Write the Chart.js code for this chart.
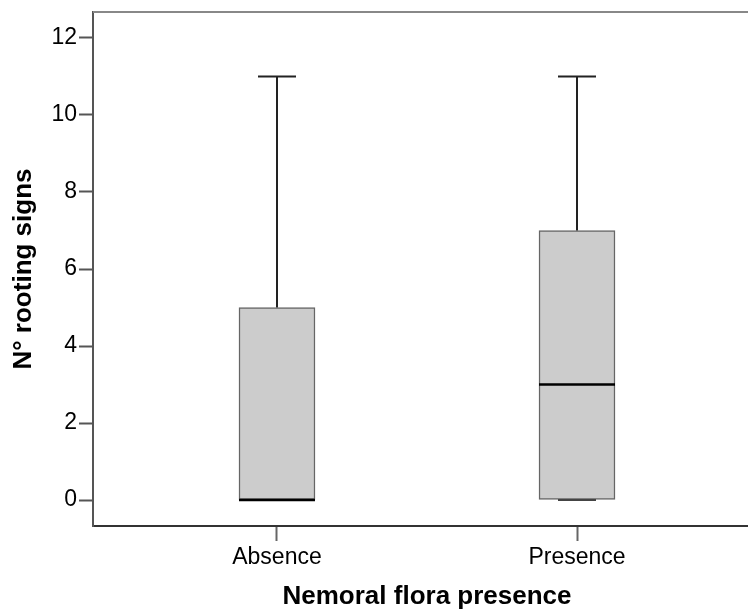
<!DOCTYPE html>
<html>
<head>
<meta charset="utf-8">
<script src="https://cdn.jsdelivr.net/npm/chart.js@4/dist/chart.umd.min.js"></script>
<style>
  html, body { margin: 0; padding: 0; background: #fff; overflow: hidden; }
  #wrap { width: 748px; height: 610px; overflow: hidden; }
</style>
</head>
<body>
<div id="wrap"><canvas id="box_chart" width="761" height="610"></canvas></div>
<script>
// data
var categories = ['Absence', 'Presence'];
var minVals = [0, 0];
var q1Vals = [0, 0];
var medianVals = [0, 3];
var q3Vals = [5, 7];
var maxVals = [11, 11];
var yTicks = [0, 2, 4, 6, 8, 10, 12];

var fontFamily = '"Liberation Sans", Arial, sans-serif';

// whiskers, caps, median line and top frame
var boxExtras = {
    id: 'boxExtras',
    afterDatasetsDraw: function (chart) {
        var ctx = chart.ctx;
        var x = chart.scales.x;
        var y = chart.scales.y;
        var area = chart.chartArea;
        var capHalf = 19;
        var boxHalf = 38;

        ctx.save();

        // top frame line
        ctx.strokeStyle = '#888';
        ctx.lineWidth = 2;
        ctx.beginPath();
        ctx.moveTo(area.left, area.top);
        ctx.lineTo(area.right, area.top);
        ctx.stroke();

        for (var i = 0; i < categories.length; i++) {
            var cx = Math.round(x.getPixelForValue(i));
            var yMax = y.getPixelForValue(maxVals[i]);
            var yMin = y.getPixelForValue(minVals[i]);
            var yQ1 = y.getPixelForValue(q1Vals[i]);
            var yQ3 = y.getPixelForValue(q3Vals[i]);
            var yMed = y.getPixelForValue(medianVals[i]);

            ctx.strokeStyle = '#222';
            ctx.lineWidth = 2;
            ctx.beginPath();
            ctx.moveTo(cx, yMax);
            ctx.lineTo(cx, yQ3);
            ctx.moveTo(cx - capHalf, yMax);
            ctx.lineTo(cx + capHalf, yMax);
            if (yMin > yQ1) {
                ctx.moveTo(cx, yQ1);
                ctx.lineTo(cx, yMin);
            }
            ctx.stroke();

            // lower cap
            ctx.strokeStyle = '#444';
            ctx.beginPath();
            ctx.moveTo(cx - capHalf, yMin);
            ctx.lineTo(cx + capHalf, yMin);
            ctx.stroke();

            // median
            ctx.strokeStyle = '#000';
            ctx.lineWidth = 2.5;
            ctx.beginPath();
            ctx.moveTo(cx - boxHalf, yMed);
            ctx.lineTo(cx + boxHalf, yMed);
            ctx.stroke();
        }
        ctx.restore();
    }
};

var box_chart = new Chart(document.getElementById('box_chart'), {
    type: 'bar',
    data: {
        datasets: [{
            data: categories.map(function (c, i) {
                return { x: i, y: [q1Vals[i], q3Vals[i]] };
            }),
            backgroundColor: '#cccccc',
            borderColor: '#666',
            borderWidth: 1.5,
            borderSkipped: false,
            barThickness: 76
        }]
    },
    options: {
        responsive: false,
        animation: false,
        layout: { padding: { top: 12, right: 0, left: 0, bottom: 0 } },
        plugins: {
            legend: { display: false },
            tooltip: { enabled: false }
        },
        scales: {
            x: {
                type: 'linear',
                offset: false,
                min: -0.6133,
                max: 1.6133,
                afterBuildTicks: function (scale) {
                    scale.ticks = categories.map(function (c, i) { return { value: i }; });
                },
                afterFit: function (scale) { scale.height = 84; },
                grid: {
                    offset: false,
                    drawOnChartArea: false,
                    drawTicks: true,
                    tickLength: 15,
                    tickWidth: 2,
                    tickColor: '#666'
                },
                border: { display: true, color: '#333', width: 2 },
                ticks: {
                    padding: 3,
                    color: '#000',
                    font: { family: fontFamily, size: 23 },
                    callback: function (v) { return categories[v]; }
                },
                title: {
                    display: true,
                    text: 'Nemoral flora presence',
                    color: '#000',
                    padding: { top: 0, bottom: 0 },
                    font: { family: fontFamily, size: 26, weight: 'bold', lineHeight: 1 }
                }
            },
            y: {
                min: -0.675,
                max: 12.675,
                afterBuildTicks: function (scale) {
                    scale.ticks = yTicks.map(function (v) { return { value: v }; });
                },
                afterFit: function (scale) {
                    scale.width = 93;
                    scale.paddingTop = 0;
                    scale.paddingBottom = 0;
                },
                grid: {
                    drawOnChartArea: false,
                    drawTicks: true,
                    tickLength: 14,
                    tickWidth: 2,
                    tickColor: '#555'
                },
                border: { display: true, color: '#555', width: 2 },
                ticks: {
                    padding: 2,
                    color: '#000',
                    font: { family: fontFamily, size: 23 }
                },
                title: {
                    display: true,
                    text: 'N° rooting signs',
                    color: '#000',
                    padding: { top: 11, bottom: 0 },
                    font: { family: fontFamily, size: 26, weight: 'bold', lineHeight: 1 }
                }
            }
        }
    },
    plugins: [boxExtras]
});
</script>
</body>
</html>
